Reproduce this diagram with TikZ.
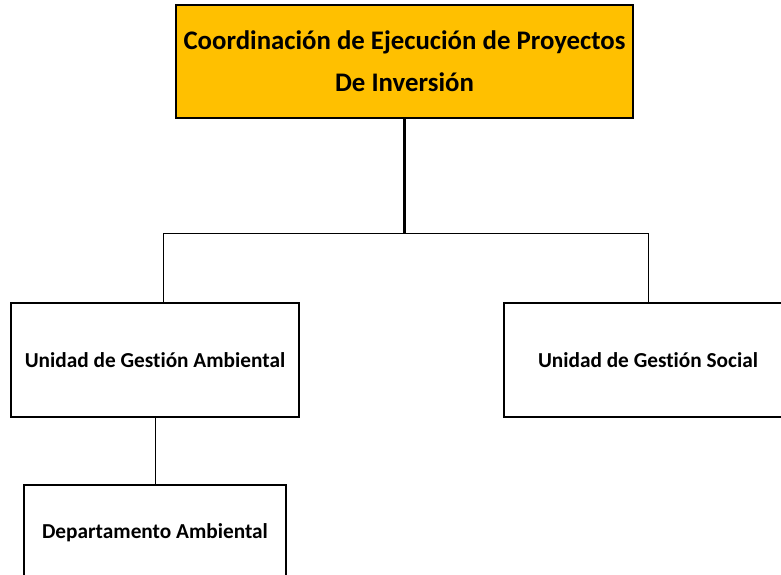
\documentclass[tikz,border=0pt]{standalone}
\usepackage{fontspec}
\setmainfont[Ligatures=NoCommon]{Carlito}
\usetikzlibrary{positioning,calc}
\definecolor{jefatura}{HTML}{FFC000}
\tikzset{unit/.style={draw,line width=1.6pt,minimum width=288pt,minimum height=114pt,inner sep=0pt,font=\bfseries\fontsize{21.3}{25}\selectfont}}

\begin{document}
\begin{tikzpicture}[x=1pt,y=-1pt]
  \useasboundingbox (0,0) rectangle (781,575);
  \clip (0,0) rectangle (781,575);
  \node[unit,fill=jefatura,minimum width=457pt,minimum height=113pt,align=center,font=\bfseries\fontsize{26.8}{42}\selectfont] (coord) at (404.5,61.5) {Coordinación de Ejecución de Proyectos\\De Inversión};
  \node[unit] (ambiental) at (155,360) {Unidad de Gestión Ambiental};
  \node[unit] (social) at (648,360) {Unidad de Gestión Social};
  \node[unit,minimum width=262pt,minimum height=96pt] (depto) at (155,533) {Departamento Ambiental};
  \coordinate (bus) at (404.5,233);
  \coordinate (busL) at (163,233);
  \coordinate (busR) at (648,233);
  \draw[line width=2.4pt] (coord) -- (bus);
  \draw[line width=1pt] (busL) -- (busR);
  \draw[line width=1pt] (busL) -- (busL |- ambiental.north);
  \draw[line width=1pt] (busR) -- (social);
  \draw[line width=1pt] (ambiental) -- (depto);
\end{tikzpicture}
\end{document}
